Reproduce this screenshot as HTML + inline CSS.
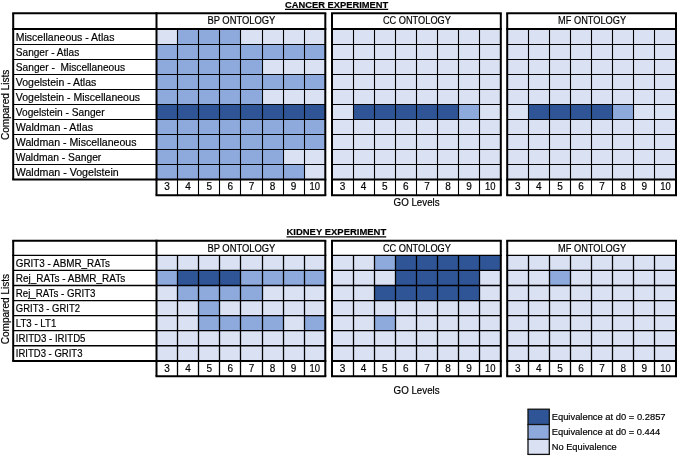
<!DOCTYPE html>
<html><head><meta charset="utf-8"><title>GO equivalence</title>
<style>
html,body{margin:0;padding:0;background:#fff;}
body{width:685px;height:457px;overflow:hidden;}
svg{display:block;will-change:transform;transform:translateZ(0);}
text{font-family:"Liberation Sans",sans-serif;fill:#000;white-space:pre;stroke:#000;stroke-width:0.18px;}
</style></head><body>
<svg width="685" height="457" viewBox="0 0 685 457">
<rect x="0" y="0" width="685" height="457" fill="#ffffff"/>
<rect x="156.50" y="29.00" width="21.10" height="15.50" fill="#D9E1F2"/>
<rect x="177.60" y="29.00" width="21.10" height="15.50" fill="#8EA9DB"/>
<rect x="198.70" y="29.00" width="21.10" height="15.50" fill="#8EA9DB"/>
<rect x="219.80" y="29.00" width="21.10" height="15.50" fill="#8EA9DB"/>
<rect x="240.90" y="29.00" width="21.10" height="15.50" fill="#D9E1F2"/>
<rect x="262.00" y="29.00" width="21.10" height="15.50" fill="#D9E1F2"/>
<rect x="283.10" y="29.00" width="21.10" height="15.50" fill="#D9E1F2"/>
<rect x="304.20" y="29.00" width="21.10" height="15.50" fill="#D9E1F2"/>
<rect x="156.50" y="44.50" width="21.10" height="15.00" fill="#8EA9DB"/>
<rect x="177.60" y="44.50" width="21.10" height="15.00" fill="#8EA9DB"/>
<rect x="198.70" y="44.50" width="21.10" height="15.00" fill="#8EA9DB"/>
<rect x="219.80" y="44.50" width="21.10" height="15.00" fill="#8EA9DB"/>
<rect x="240.90" y="44.50" width="21.10" height="15.00" fill="#8EA9DB"/>
<rect x="262.00" y="44.50" width="21.10" height="15.00" fill="#8EA9DB"/>
<rect x="283.10" y="44.50" width="21.10" height="15.00" fill="#8EA9DB"/>
<rect x="304.20" y="44.50" width="21.10" height="15.00" fill="#8EA9DB"/>
<rect x="156.50" y="59.50" width="21.10" height="15.00" fill="#8EA9DB"/>
<rect x="177.60" y="59.50" width="21.10" height="15.00" fill="#8EA9DB"/>
<rect x="198.70" y="59.50" width="21.10" height="15.00" fill="#8EA9DB"/>
<rect x="219.80" y="59.50" width="21.10" height="15.00" fill="#8EA9DB"/>
<rect x="240.90" y="59.50" width="21.10" height="15.00" fill="#8EA9DB"/>
<rect x="262.00" y="59.50" width="21.10" height="15.00" fill="#D9E1F2"/>
<rect x="283.10" y="59.50" width="21.10" height="15.00" fill="#D9E1F2"/>
<rect x="304.20" y="59.50" width="21.10" height="15.00" fill="#D9E1F2"/>
<rect x="156.50" y="74.50" width="21.10" height="15.00" fill="#8EA9DB"/>
<rect x="177.60" y="74.50" width="21.10" height="15.00" fill="#8EA9DB"/>
<rect x="198.70" y="74.50" width="21.10" height="15.00" fill="#8EA9DB"/>
<rect x="219.80" y="74.50" width="21.10" height="15.00" fill="#8EA9DB"/>
<rect x="240.90" y="74.50" width="21.10" height="15.00" fill="#8EA9DB"/>
<rect x="262.00" y="74.50" width="21.10" height="15.00" fill="#8EA9DB"/>
<rect x="283.10" y="74.50" width="21.10" height="15.00" fill="#8EA9DB"/>
<rect x="304.20" y="74.50" width="21.10" height="15.00" fill="#8EA9DB"/>
<rect x="156.50" y="89.50" width="21.10" height="15.00" fill="#8EA9DB"/>
<rect x="177.60" y="89.50" width="21.10" height="15.00" fill="#8EA9DB"/>
<rect x="198.70" y="89.50" width="21.10" height="15.00" fill="#8EA9DB"/>
<rect x="219.80" y="89.50" width="21.10" height="15.00" fill="#8EA9DB"/>
<rect x="240.90" y="89.50" width="21.10" height="15.00" fill="#8EA9DB"/>
<rect x="262.00" y="89.50" width="21.10" height="15.00" fill="#D9E1F2"/>
<rect x="283.10" y="89.50" width="21.10" height="15.00" fill="#D9E1F2"/>
<rect x="304.20" y="89.50" width="21.10" height="15.00" fill="#D9E1F2"/>
<rect x="156.50" y="104.50" width="21.10" height="15.00" fill="#2F5597"/>
<rect x="177.60" y="104.50" width="21.10" height="15.00" fill="#2F5597"/>
<rect x="198.70" y="104.50" width="21.10" height="15.00" fill="#2F5597"/>
<rect x="219.80" y="104.50" width="21.10" height="15.00" fill="#2F5597"/>
<rect x="240.90" y="104.50" width="21.10" height="15.00" fill="#2F5597"/>
<rect x="262.00" y="104.50" width="21.10" height="15.00" fill="#2F5597"/>
<rect x="283.10" y="104.50" width="21.10" height="15.00" fill="#2F5597"/>
<rect x="304.20" y="104.50" width="21.10" height="15.00" fill="#2F5597"/>
<rect x="156.50" y="119.50" width="21.10" height="15.00" fill="#8EA9DB"/>
<rect x="177.60" y="119.50" width="21.10" height="15.00" fill="#8EA9DB"/>
<rect x="198.70" y="119.50" width="21.10" height="15.00" fill="#8EA9DB"/>
<rect x="219.80" y="119.50" width="21.10" height="15.00" fill="#8EA9DB"/>
<rect x="240.90" y="119.50" width="21.10" height="15.00" fill="#8EA9DB"/>
<rect x="262.00" y="119.50" width="21.10" height="15.00" fill="#8EA9DB"/>
<rect x="283.10" y="119.50" width="21.10" height="15.00" fill="#8EA9DB"/>
<rect x="304.20" y="119.50" width="21.10" height="15.00" fill="#8EA9DB"/>
<rect x="156.50" y="134.50" width="21.10" height="15.00" fill="#8EA9DB"/>
<rect x="177.60" y="134.50" width="21.10" height="15.00" fill="#8EA9DB"/>
<rect x="198.70" y="134.50" width="21.10" height="15.00" fill="#8EA9DB"/>
<rect x="219.80" y="134.50" width="21.10" height="15.00" fill="#8EA9DB"/>
<rect x="240.90" y="134.50" width="21.10" height="15.00" fill="#8EA9DB"/>
<rect x="262.00" y="134.50" width="21.10" height="15.00" fill="#8EA9DB"/>
<rect x="283.10" y="134.50" width="21.10" height="15.00" fill="#8EA9DB"/>
<rect x="304.20" y="134.50" width="21.10" height="15.00" fill="#8EA9DB"/>
<rect x="156.50" y="149.50" width="21.10" height="15.00" fill="#8EA9DB"/>
<rect x="177.60" y="149.50" width="21.10" height="15.00" fill="#8EA9DB"/>
<rect x="198.70" y="149.50" width="21.10" height="15.00" fill="#8EA9DB"/>
<rect x="219.80" y="149.50" width="21.10" height="15.00" fill="#8EA9DB"/>
<rect x="240.90" y="149.50" width="21.10" height="15.00" fill="#8EA9DB"/>
<rect x="262.00" y="149.50" width="21.10" height="15.00" fill="#8EA9DB"/>
<rect x="283.10" y="149.50" width="21.10" height="15.00" fill="#D9E1F2"/>
<rect x="304.20" y="149.50" width="21.10" height="15.00" fill="#D9E1F2"/>
<rect x="156.50" y="164.50" width="21.10" height="15.00" fill="#8EA9DB"/>
<rect x="177.60" y="164.50" width="21.10" height="15.00" fill="#8EA9DB"/>
<rect x="198.70" y="164.50" width="21.10" height="15.00" fill="#8EA9DB"/>
<rect x="219.80" y="164.50" width="21.10" height="15.00" fill="#8EA9DB"/>
<rect x="240.90" y="164.50" width="21.10" height="15.00" fill="#8EA9DB"/>
<rect x="262.00" y="164.50" width="21.10" height="15.00" fill="#8EA9DB"/>
<rect x="283.10" y="164.50" width="21.10" height="15.00" fill="#8EA9DB"/>
<rect x="304.20" y="164.50" width="21.10" height="15.00" fill="#D9E1F2"/>
<rect x="332.00" y="29.00" width="21.10" height="15.50" fill="#D9E1F2"/>
<rect x="353.10" y="29.00" width="21.10" height="15.50" fill="#D9E1F2"/>
<rect x="374.20" y="29.00" width="21.10" height="15.50" fill="#D9E1F2"/>
<rect x="395.30" y="29.00" width="21.10" height="15.50" fill="#D9E1F2"/>
<rect x="416.40" y="29.00" width="21.10" height="15.50" fill="#D9E1F2"/>
<rect x="437.50" y="29.00" width="21.10" height="15.50" fill="#D9E1F2"/>
<rect x="458.60" y="29.00" width="21.10" height="15.50" fill="#D9E1F2"/>
<rect x="479.70" y="29.00" width="21.10" height="15.50" fill="#D9E1F2"/>
<rect x="332.00" y="44.50" width="21.10" height="15.00" fill="#D9E1F2"/>
<rect x="353.10" y="44.50" width="21.10" height="15.00" fill="#D9E1F2"/>
<rect x="374.20" y="44.50" width="21.10" height="15.00" fill="#D9E1F2"/>
<rect x="395.30" y="44.50" width="21.10" height="15.00" fill="#D9E1F2"/>
<rect x="416.40" y="44.50" width="21.10" height="15.00" fill="#D9E1F2"/>
<rect x="437.50" y="44.50" width="21.10" height="15.00" fill="#D9E1F2"/>
<rect x="458.60" y="44.50" width="21.10" height="15.00" fill="#D9E1F2"/>
<rect x="479.70" y="44.50" width="21.10" height="15.00" fill="#D9E1F2"/>
<rect x="332.00" y="59.50" width="21.10" height="15.00" fill="#D9E1F2"/>
<rect x="353.10" y="59.50" width="21.10" height="15.00" fill="#D9E1F2"/>
<rect x="374.20" y="59.50" width="21.10" height="15.00" fill="#D9E1F2"/>
<rect x="395.30" y="59.50" width="21.10" height="15.00" fill="#D9E1F2"/>
<rect x="416.40" y="59.50" width="21.10" height="15.00" fill="#D9E1F2"/>
<rect x="437.50" y="59.50" width="21.10" height="15.00" fill="#D9E1F2"/>
<rect x="458.60" y="59.50" width="21.10" height="15.00" fill="#D9E1F2"/>
<rect x="479.70" y="59.50" width="21.10" height="15.00" fill="#D9E1F2"/>
<rect x="332.00" y="74.50" width="21.10" height="15.00" fill="#D9E1F2"/>
<rect x="353.10" y="74.50" width="21.10" height="15.00" fill="#D9E1F2"/>
<rect x="374.20" y="74.50" width="21.10" height="15.00" fill="#D9E1F2"/>
<rect x="395.30" y="74.50" width="21.10" height="15.00" fill="#D9E1F2"/>
<rect x="416.40" y="74.50" width="21.10" height="15.00" fill="#D9E1F2"/>
<rect x="437.50" y="74.50" width="21.10" height="15.00" fill="#D9E1F2"/>
<rect x="458.60" y="74.50" width="21.10" height="15.00" fill="#D9E1F2"/>
<rect x="479.70" y="74.50" width="21.10" height="15.00" fill="#D9E1F2"/>
<rect x="332.00" y="89.50" width="21.10" height="15.00" fill="#D9E1F2"/>
<rect x="353.10" y="89.50" width="21.10" height="15.00" fill="#D9E1F2"/>
<rect x="374.20" y="89.50" width="21.10" height="15.00" fill="#D9E1F2"/>
<rect x="395.30" y="89.50" width="21.10" height="15.00" fill="#D9E1F2"/>
<rect x="416.40" y="89.50" width="21.10" height="15.00" fill="#D9E1F2"/>
<rect x="437.50" y="89.50" width="21.10" height="15.00" fill="#D9E1F2"/>
<rect x="458.60" y="89.50" width="21.10" height="15.00" fill="#D9E1F2"/>
<rect x="479.70" y="89.50" width="21.10" height="15.00" fill="#D9E1F2"/>
<rect x="332.00" y="104.50" width="21.10" height="15.00" fill="#D9E1F2"/>
<rect x="353.10" y="104.50" width="21.10" height="15.00" fill="#2F5597"/>
<rect x="374.20" y="104.50" width="21.10" height="15.00" fill="#2F5597"/>
<rect x="395.30" y="104.50" width="21.10" height="15.00" fill="#2F5597"/>
<rect x="416.40" y="104.50" width="21.10" height="15.00" fill="#2F5597"/>
<rect x="437.50" y="104.50" width="21.10" height="15.00" fill="#2F5597"/>
<rect x="458.60" y="104.50" width="21.10" height="15.00" fill="#8EA9DB"/>
<rect x="479.70" y="104.50" width="21.10" height="15.00" fill="#D9E1F2"/>
<rect x="332.00" y="119.50" width="21.10" height="15.00" fill="#D9E1F2"/>
<rect x="353.10" y="119.50" width="21.10" height="15.00" fill="#D9E1F2"/>
<rect x="374.20" y="119.50" width="21.10" height="15.00" fill="#D9E1F2"/>
<rect x="395.30" y="119.50" width="21.10" height="15.00" fill="#D9E1F2"/>
<rect x="416.40" y="119.50" width="21.10" height="15.00" fill="#D9E1F2"/>
<rect x="437.50" y="119.50" width="21.10" height="15.00" fill="#D9E1F2"/>
<rect x="458.60" y="119.50" width="21.10" height="15.00" fill="#D9E1F2"/>
<rect x="479.70" y="119.50" width="21.10" height="15.00" fill="#D9E1F2"/>
<rect x="332.00" y="134.50" width="21.10" height="15.00" fill="#D9E1F2"/>
<rect x="353.10" y="134.50" width="21.10" height="15.00" fill="#D9E1F2"/>
<rect x="374.20" y="134.50" width="21.10" height="15.00" fill="#D9E1F2"/>
<rect x="395.30" y="134.50" width="21.10" height="15.00" fill="#D9E1F2"/>
<rect x="416.40" y="134.50" width="21.10" height="15.00" fill="#D9E1F2"/>
<rect x="437.50" y="134.50" width="21.10" height="15.00" fill="#D9E1F2"/>
<rect x="458.60" y="134.50" width="21.10" height="15.00" fill="#D9E1F2"/>
<rect x="479.70" y="134.50" width="21.10" height="15.00" fill="#D9E1F2"/>
<rect x="332.00" y="149.50" width="21.10" height="15.00" fill="#D9E1F2"/>
<rect x="353.10" y="149.50" width="21.10" height="15.00" fill="#D9E1F2"/>
<rect x="374.20" y="149.50" width="21.10" height="15.00" fill="#D9E1F2"/>
<rect x="395.30" y="149.50" width="21.10" height="15.00" fill="#D9E1F2"/>
<rect x="416.40" y="149.50" width="21.10" height="15.00" fill="#D9E1F2"/>
<rect x="437.50" y="149.50" width="21.10" height="15.00" fill="#D9E1F2"/>
<rect x="458.60" y="149.50" width="21.10" height="15.00" fill="#D9E1F2"/>
<rect x="479.70" y="149.50" width="21.10" height="15.00" fill="#D9E1F2"/>
<rect x="332.00" y="164.50" width="21.10" height="15.00" fill="#D9E1F2"/>
<rect x="353.10" y="164.50" width="21.10" height="15.00" fill="#D9E1F2"/>
<rect x="374.20" y="164.50" width="21.10" height="15.00" fill="#D9E1F2"/>
<rect x="395.30" y="164.50" width="21.10" height="15.00" fill="#D9E1F2"/>
<rect x="416.40" y="164.50" width="21.10" height="15.00" fill="#D9E1F2"/>
<rect x="437.50" y="164.50" width="21.10" height="15.00" fill="#D9E1F2"/>
<rect x="458.60" y="164.50" width="21.10" height="15.00" fill="#D9E1F2"/>
<rect x="479.70" y="164.50" width="21.10" height="15.00" fill="#D9E1F2"/>
<rect x="507.20" y="29.00" width="21.10" height="15.50" fill="#D9E1F2"/>
<rect x="528.30" y="29.00" width="21.10" height="15.50" fill="#D9E1F2"/>
<rect x="549.40" y="29.00" width="21.10" height="15.50" fill="#D9E1F2"/>
<rect x="570.50" y="29.00" width="21.10" height="15.50" fill="#D9E1F2"/>
<rect x="591.60" y="29.00" width="21.10" height="15.50" fill="#D9E1F2"/>
<rect x="612.70" y="29.00" width="21.10" height="15.50" fill="#D9E1F2"/>
<rect x="633.80" y="29.00" width="21.10" height="15.50" fill="#D9E1F2"/>
<rect x="654.90" y="29.00" width="21.10" height="15.50" fill="#D9E1F2"/>
<rect x="507.20" y="44.50" width="21.10" height="15.00" fill="#D9E1F2"/>
<rect x="528.30" y="44.50" width="21.10" height="15.00" fill="#D9E1F2"/>
<rect x="549.40" y="44.50" width="21.10" height="15.00" fill="#D9E1F2"/>
<rect x="570.50" y="44.50" width="21.10" height="15.00" fill="#D9E1F2"/>
<rect x="591.60" y="44.50" width="21.10" height="15.00" fill="#D9E1F2"/>
<rect x="612.70" y="44.50" width="21.10" height="15.00" fill="#D9E1F2"/>
<rect x="633.80" y="44.50" width="21.10" height="15.00" fill="#D9E1F2"/>
<rect x="654.90" y="44.50" width="21.10" height="15.00" fill="#D9E1F2"/>
<rect x="507.20" y="59.50" width="21.10" height="15.00" fill="#D9E1F2"/>
<rect x="528.30" y="59.50" width="21.10" height="15.00" fill="#D9E1F2"/>
<rect x="549.40" y="59.50" width="21.10" height="15.00" fill="#D9E1F2"/>
<rect x="570.50" y="59.50" width="21.10" height="15.00" fill="#D9E1F2"/>
<rect x="591.60" y="59.50" width="21.10" height="15.00" fill="#D9E1F2"/>
<rect x="612.70" y="59.50" width="21.10" height="15.00" fill="#D9E1F2"/>
<rect x="633.80" y="59.50" width="21.10" height="15.00" fill="#D9E1F2"/>
<rect x="654.90" y="59.50" width="21.10" height="15.00" fill="#D9E1F2"/>
<rect x="507.20" y="74.50" width="21.10" height="15.00" fill="#D9E1F2"/>
<rect x="528.30" y="74.50" width="21.10" height="15.00" fill="#D9E1F2"/>
<rect x="549.40" y="74.50" width="21.10" height="15.00" fill="#D9E1F2"/>
<rect x="570.50" y="74.50" width="21.10" height="15.00" fill="#D9E1F2"/>
<rect x="591.60" y="74.50" width="21.10" height="15.00" fill="#D9E1F2"/>
<rect x="612.70" y="74.50" width="21.10" height="15.00" fill="#D9E1F2"/>
<rect x="633.80" y="74.50" width="21.10" height="15.00" fill="#D9E1F2"/>
<rect x="654.90" y="74.50" width="21.10" height="15.00" fill="#D9E1F2"/>
<rect x="507.20" y="89.50" width="21.10" height="15.00" fill="#D9E1F2"/>
<rect x="528.30" y="89.50" width="21.10" height="15.00" fill="#D9E1F2"/>
<rect x="549.40" y="89.50" width="21.10" height="15.00" fill="#D9E1F2"/>
<rect x="570.50" y="89.50" width="21.10" height="15.00" fill="#D9E1F2"/>
<rect x="591.60" y="89.50" width="21.10" height="15.00" fill="#D9E1F2"/>
<rect x="612.70" y="89.50" width="21.10" height="15.00" fill="#D9E1F2"/>
<rect x="633.80" y="89.50" width="21.10" height="15.00" fill="#D9E1F2"/>
<rect x="654.90" y="89.50" width="21.10" height="15.00" fill="#D9E1F2"/>
<rect x="507.20" y="104.50" width="21.10" height="15.00" fill="#D9E1F2"/>
<rect x="528.30" y="104.50" width="21.10" height="15.00" fill="#2F5597"/>
<rect x="549.40" y="104.50" width="21.10" height="15.00" fill="#2F5597"/>
<rect x="570.50" y="104.50" width="21.10" height="15.00" fill="#2F5597"/>
<rect x="591.60" y="104.50" width="21.10" height="15.00" fill="#2F5597"/>
<rect x="612.70" y="104.50" width="21.10" height="15.00" fill="#8EA9DB"/>
<rect x="633.80" y="104.50" width="21.10" height="15.00" fill="#D9E1F2"/>
<rect x="654.90" y="104.50" width="21.10" height="15.00" fill="#D9E1F2"/>
<rect x="507.20" y="119.50" width="21.10" height="15.00" fill="#D9E1F2"/>
<rect x="528.30" y="119.50" width="21.10" height="15.00" fill="#D9E1F2"/>
<rect x="549.40" y="119.50" width="21.10" height="15.00" fill="#D9E1F2"/>
<rect x="570.50" y="119.50" width="21.10" height="15.00" fill="#D9E1F2"/>
<rect x="591.60" y="119.50" width="21.10" height="15.00" fill="#D9E1F2"/>
<rect x="612.70" y="119.50" width="21.10" height="15.00" fill="#D9E1F2"/>
<rect x="633.80" y="119.50" width="21.10" height="15.00" fill="#D9E1F2"/>
<rect x="654.90" y="119.50" width="21.10" height="15.00" fill="#D9E1F2"/>
<rect x="507.20" y="134.50" width="21.10" height="15.00" fill="#D9E1F2"/>
<rect x="528.30" y="134.50" width="21.10" height="15.00" fill="#D9E1F2"/>
<rect x="549.40" y="134.50" width="21.10" height="15.00" fill="#D9E1F2"/>
<rect x="570.50" y="134.50" width="21.10" height="15.00" fill="#D9E1F2"/>
<rect x="591.60" y="134.50" width="21.10" height="15.00" fill="#D9E1F2"/>
<rect x="612.70" y="134.50" width="21.10" height="15.00" fill="#D9E1F2"/>
<rect x="633.80" y="134.50" width="21.10" height="15.00" fill="#D9E1F2"/>
<rect x="654.90" y="134.50" width="21.10" height="15.00" fill="#D9E1F2"/>
<rect x="507.20" y="149.50" width="21.10" height="15.00" fill="#D9E1F2"/>
<rect x="528.30" y="149.50" width="21.10" height="15.00" fill="#D9E1F2"/>
<rect x="549.40" y="149.50" width="21.10" height="15.00" fill="#D9E1F2"/>
<rect x="570.50" y="149.50" width="21.10" height="15.00" fill="#D9E1F2"/>
<rect x="591.60" y="149.50" width="21.10" height="15.00" fill="#D9E1F2"/>
<rect x="612.70" y="149.50" width="21.10" height="15.00" fill="#D9E1F2"/>
<rect x="633.80" y="149.50" width="21.10" height="15.00" fill="#D9E1F2"/>
<rect x="654.90" y="149.50" width="21.10" height="15.00" fill="#D9E1F2"/>
<rect x="507.20" y="164.50" width="21.10" height="15.00" fill="#D9E1F2"/>
<rect x="528.30" y="164.50" width="21.10" height="15.00" fill="#D9E1F2"/>
<rect x="549.40" y="164.50" width="21.10" height="15.00" fill="#D9E1F2"/>
<rect x="570.50" y="164.50" width="21.10" height="15.00" fill="#D9E1F2"/>
<rect x="591.60" y="164.50" width="21.10" height="15.00" fill="#D9E1F2"/>
<rect x="612.70" y="164.50" width="21.10" height="15.00" fill="#D9E1F2"/>
<rect x="633.80" y="164.50" width="21.10" height="15.00" fill="#D9E1F2"/>
<rect x="654.90" y="164.50" width="21.10" height="15.00" fill="#D9E1F2"/>
<line x1="13.20" y1="44.50" x2="156.50" y2="44.50" stroke="#000" stroke-width="1"/>
<line x1="156.50" y1="44.50" x2="325.30" y2="44.50" stroke="#000" stroke-width="1"/>
<line x1="332.00" y1="44.50" x2="500.80" y2="44.50" stroke="#000" stroke-width="1"/>
<line x1="507.20" y1="44.50" x2="676.00" y2="44.50" stroke="#000" stroke-width="1"/>
<line x1="13.20" y1="59.50" x2="156.50" y2="59.50" stroke="#000" stroke-width="1"/>
<line x1="156.50" y1="59.50" x2="325.30" y2="59.50" stroke="#000" stroke-width="1"/>
<line x1="332.00" y1="59.50" x2="500.80" y2="59.50" stroke="#000" stroke-width="1"/>
<line x1="507.20" y1="59.50" x2="676.00" y2="59.50" stroke="#000" stroke-width="1"/>
<line x1="13.20" y1="74.50" x2="156.50" y2="74.50" stroke="#000" stroke-width="1"/>
<line x1="156.50" y1="74.50" x2="325.30" y2="74.50" stroke="#000" stroke-width="1"/>
<line x1="332.00" y1="74.50" x2="500.80" y2="74.50" stroke="#000" stroke-width="1"/>
<line x1="507.20" y1="74.50" x2="676.00" y2="74.50" stroke="#000" stroke-width="1"/>
<line x1="13.20" y1="89.50" x2="156.50" y2="89.50" stroke="#000" stroke-width="1"/>
<line x1="156.50" y1="89.50" x2="325.30" y2="89.50" stroke="#000" stroke-width="1"/>
<line x1="332.00" y1="89.50" x2="500.80" y2="89.50" stroke="#000" stroke-width="1"/>
<line x1="507.20" y1="89.50" x2="676.00" y2="89.50" stroke="#000" stroke-width="1"/>
<line x1="13.20" y1="104.50" x2="156.50" y2="104.50" stroke="#000" stroke-width="1"/>
<line x1="156.50" y1="104.50" x2="325.30" y2="104.50" stroke="#000" stroke-width="1"/>
<line x1="332.00" y1="104.50" x2="500.80" y2="104.50" stroke="#000" stroke-width="1"/>
<line x1="507.20" y1="104.50" x2="676.00" y2="104.50" stroke="#000" stroke-width="1"/>
<line x1="13.20" y1="119.50" x2="156.50" y2="119.50" stroke="#000" stroke-width="1"/>
<line x1="156.50" y1="119.50" x2="325.30" y2="119.50" stroke="#000" stroke-width="1"/>
<line x1="332.00" y1="119.50" x2="500.80" y2="119.50" stroke="#000" stroke-width="1"/>
<line x1="507.20" y1="119.50" x2="676.00" y2="119.50" stroke="#000" stroke-width="1"/>
<line x1="13.20" y1="134.50" x2="156.50" y2="134.50" stroke="#000" stroke-width="1"/>
<line x1="156.50" y1="134.50" x2="325.30" y2="134.50" stroke="#000" stroke-width="1"/>
<line x1="332.00" y1="134.50" x2="500.80" y2="134.50" stroke="#000" stroke-width="1"/>
<line x1="507.20" y1="134.50" x2="676.00" y2="134.50" stroke="#000" stroke-width="1"/>
<line x1="13.20" y1="149.50" x2="156.50" y2="149.50" stroke="#000" stroke-width="1"/>
<line x1="156.50" y1="149.50" x2="325.30" y2="149.50" stroke="#000" stroke-width="1"/>
<line x1="332.00" y1="149.50" x2="500.80" y2="149.50" stroke="#000" stroke-width="1"/>
<line x1="507.20" y1="149.50" x2="676.00" y2="149.50" stroke="#000" stroke-width="1"/>
<line x1="13.20" y1="164.50" x2="156.50" y2="164.50" stroke="#000" stroke-width="1"/>
<line x1="156.50" y1="164.50" x2="325.30" y2="164.50" stroke="#000" stroke-width="1"/>
<line x1="332.00" y1="164.50" x2="500.80" y2="164.50" stroke="#000" stroke-width="1"/>
<line x1="507.20" y1="164.50" x2="676.00" y2="164.50" stroke="#000" stroke-width="1"/>
<line x1="177.50" y1="29.00" x2="177.50" y2="195.20" stroke="#000" stroke-width="1.1"/>
<line x1="198.50" y1="29.00" x2="198.50" y2="195.20" stroke="#000" stroke-width="1.1"/>
<line x1="219.50" y1="29.00" x2="219.50" y2="195.20" stroke="#000" stroke-width="1.1"/>
<line x1="240.50" y1="29.00" x2="240.50" y2="195.20" stroke="#000" stroke-width="1.1"/>
<line x1="262.50" y1="29.00" x2="262.50" y2="195.20" stroke="#000" stroke-width="1.1"/>
<line x1="283.50" y1="29.00" x2="283.50" y2="195.20" stroke="#000" stroke-width="1.1"/>
<line x1="304.50" y1="29.00" x2="304.50" y2="195.20" stroke="#000" stroke-width="1.1"/>
<line x1="353.50" y1="29.00" x2="353.50" y2="195.20" stroke="#000" stroke-width="1.1"/>
<line x1="374.50" y1="29.00" x2="374.50" y2="195.20" stroke="#000" stroke-width="1.1"/>
<line x1="395.50" y1="29.00" x2="395.50" y2="195.20" stroke="#000" stroke-width="1.1"/>
<line x1="416.50" y1="29.00" x2="416.50" y2="195.20" stroke="#000" stroke-width="1.1"/>
<line x1="437.50" y1="29.00" x2="437.50" y2="195.20" stroke="#000" stroke-width="1.1"/>
<line x1="458.50" y1="29.00" x2="458.50" y2="195.20" stroke="#000" stroke-width="1.1"/>
<line x1="479.50" y1="29.00" x2="479.50" y2="195.20" stroke="#000" stroke-width="1.1"/>
<line x1="528.50" y1="29.00" x2="528.50" y2="195.20" stroke="#000" stroke-width="1.1"/>
<line x1="549.50" y1="29.00" x2="549.50" y2="195.20" stroke="#000" stroke-width="1.1"/>
<line x1="570.50" y1="29.00" x2="570.50" y2="195.20" stroke="#000" stroke-width="1.1"/>
<line x1="591.50" y1="29.00" x2="591.50" y2="195.20" stroke="#000" stroke-width="1.1"/>
<line x1="612.50" y1="29.00" x2="612.50" y2="195.20" stroke="#000" stroke-width="1.1"/>
<line x1="633.50" y1="29.00" x2="633.50" y2="195.20" stroke="#000" stroke-width="1.1"/>
<line x1="654.50" y1="29.00" x2="654.50" y2="195.20" stroke="#000" stroke-width="1.1"/>
<line x1="12.20" y1="29.00" x2="156.50" y2="29.00" stroke="#000" stroke-width="2"/>
<line x1="155.50" y1="29.00" x2="326.30" y2="29.00" stroke="#000" stroke-width="2"/>
<line x1="331.00" y1="29.00" x2="501.80" y2="29.00" stroke="#000" stroke-width="2"/>
<line x1="506.20" y1="29.00" x2="677.00" y2="29.00" stroke="#000" stroke-width="2"/>
<line x1="13.20" y1="13.20" x2="13.20" y2="179.50" stroke="#000" stroke-width="2"/>
<line x1="12.20" y1="13.20" x2="157.50" y2="13.20" stroke="#000" stroke-width="2"/>
<line x1="12.20" y1="179.50" x2="157.50" y2="179.50" stroke="#000" stroke-width="2"/>
<line x1="156.50" y1="13.20" x2="156.50" y2="195.20" stroke="#000" stroke-width="2"/>
<line x1="325.30" y1="13.20" x2="325.30" y2="195.20" stroke="#000" stroke-width="2"/>
<line x1="155.50" y1="13.20" x2="326.30" y2="13.20" stroke="#000" stroke-width="2"/>
<line x1="155.50" y1="179.50" x2="326.30" y2="179.50" stroke="#000" stroke-width="2"/>
<line x1="155.50" y1="195.20" x2="326.30" y2="195.20" stroke="#000" stroke-width="2"/>
<line x1="332.00" y1="13.20" x2="332.00" y2="195.20" stroke="#000" stroke-width="2"/>
<line x1="500.80" y1="13.20" x2="500.80" y2="195.20" stroke="#000" stroke-width="2"/>
<line x1="331.00" y1="13.20" x2="501.80" y2="13.20" stroke="#000" stroke-width="2"/>
<line x1="331.00" y1="179.50" x2="501.80" y2="179.50" stroke="#000" stroke-width="2"/>
<line x1="331.00" y1="195.20" x2="501.80" y2="195.20" stroke="#000" stroke-width="2"/>
<line x1="507.20" y1="13.20" x2="507.20" y2="195.20" stroke="#000" stroke-width="2"/>
<line x1="676.00" y1="13.20" x2="676.00" y2="195.20" stroke="#000" stroke-width="2"/>
<line x1="506.20" y1="13.20" x2="677.00" y2="13.20" stroke="#000" stroke-width="2"/>
<line x1="506.20" y1="179.50" x2="677.00" y2="179.50" stroke="#000" stroke-width="2"/>
<line x1="506.20" y1="195.20" x2="677.00" y2="195.20" stroke="#000" stroke-width="2"/>
<text x="15.80" y="40.60" font-size="10.4" text-anchor="start" font-weight="normal" textLength="98.6" lengthAdjust="spacingAndGlyphs">Miscellaneous - Atlas</text>
<text x="15.80" y="55.60" font-size="10.4" text-anchor="start" font-weight="normal" textLength="63.4" lengthAdjust="spacingAndGlyphs">Sanger - Atlas</text>
<text x="15.80" y="70.60" font-size="10.4" text-anchor="start" font-weight="normal" textLength="109.2" lengthAdjust="spacingAndGlyphs">Sanger -  Miscellaneous</text>
<text x="15.80" y="85.60" font-size="10.4" text-anchor="start" font-weight="normal" textLength="80.5" lengthAdjust="spacingAndGlyphs">Vogelstein - Atlas</text>
<text x="15.80" y="100.60" font-size="10.4" text-anchor="start" font-weight="normal" textLength="124.2" lengthAdjust="spacingAndGlyphs">Vogelstein - Miscellaneous</text>
<text x="15.80" y="115.60" font-size="10.4" text-anchor="start" font-weight="normal" textLength="88.8" lengthAdjust="spacingAndGlyphs">Vogelstein - Sanger</text>
<text x="15.80" y="130.60" font-size="10.4" text-anchor="start" font-weight="normal" textLength="77.2" lengthAdjust="spacingAndGlyphs">Waldman - Atlas</text>
<text x="15.80" y="145.60" font-size="10.4" text-anchor="start" font-weight="normal" textLength="120.7" lengthAdjust="spacingAndGlyphs">Waldman - Miscellaneous</text>
<text x="15.80" y="160.60" font-size="10.4" text-anchor="start" font-weight="normal" textLength="85.5" lengthAdjust="spacingAndGlyphs">Waldman - Sanger</text>
<text x="15.80" y="175.60" font-size="10.4" text-anchor="start" font-weight="normal" textLength="102.9" lengthAdjust="spacingAndGlyphs">Waldman - Vogelstein</text>
<text x="241.40" y="23.60" font-size="10" text-anchor="middle" font-weight="normal" textLength="68.0" lengthAdjust="spacingAndGlyphs">BP ONTOLOGY</text>
<text x="416.90" y="23.60" font-size="10" text-anchor="middle" font-weight="normal" textLength="68.0" lengthAdjust="spacingAndGlyphs">CC ONTOLOGY</text>
<text x="592.10" y="23.60" font-size="10" text-anchor="middle" font-weight="normal" textLength="68.0" lengthAdjust="spacingAndGlyphs">MF ONTOLOGY</text>
<text x="167.05" y="189.90" font-size="10" text-anchor="middle" font-weight="normal">3</text>
<text x="188.15" y="189.90" font-size="10" text-anchor="middle" font-weight="normal">4</text>
<text x="209.25" y="189.90" font-size="10" text-anchor="middle" font-weight="normal">5</text>
<text x="230.35" y="189.90" font-size="10" text-anchor="middle" font-weight="normal">6</text>
<text x="251.45" y="189.90" font-size="10" text-anchor="middle" font-weight="normal">7</text>
<text x="272.55" y="189.90" font-size="10" text-anchor="middle" font-weight="normal">8</text>
<text x="293.65" y="189.90" font-size="10" text-anchor="middle" font-weight="normal">9</text>
<text x="314.75" y="189.90" font-size="10" text-anchor="middle" font-weight="normal" textLength="10.5" lengthAdjust="spacingAndGlyphs">10</text>
<text x="342.55" y="189.90" font-size="10" text-anchor="middle" font-weight="normal">3</text>
<text x="363.65" y="189.90" font-size="10" text-anchor="middle" font-weight="normal">4</text>
<text x="384.75" y="189.90" font-size="10" text-anchor="middle" font-weight="normal">5</text>
<text x="405.85" y="189.90" font-size="10" text-anchor="middle" font-weight="normal">6</text>
<text x="426.95" y="189.90" font-size="10" text-anchor="middle" font-weight="normal">7</text>
<text x="448.05" y="189.90" font-size="10" text-anchor="middle" font-weight="normal">8</text>
<text x="469.15" y="189.90" font-size="10" text-anchor="middle" font-weight="normal">9</text>
<text x="490.25" y="189.90" font-size="10" text-anchor="middle" font-weight="normal" textLength="10.5" lengthAdjust="spacingAndGlyphs">10</text>
<text x="517.75" y="189.90" font-size="10" text-anchor="middle" font-weight="normal">3</text>
<text x="538.85" y="189.90" font-size="10" text-anchor="middle" font-weight="normal">4</text>
<text x="559.95" y="189.90" font-size="10" text-anchor="middle" font-weight="normal">5</text>
<text x="581.05" y="189.90" font-size="10" text-anchor="middle" font-weight="normal">6</text>
<text x="602.15" y="189.90" font-size="10" text-anchor="middle" font-weight="normal">7</text>
<text x="623.25" y="189.90" font-size="10" text-anchor="middle" font-weight="normal">8</text>
<text x="644.35" y="189.90" font-size="10" text-anchor="middle" font-weight="normal">9</text>
<text x="665.45" y="189.90" font-size="10" text-anchor="middle" font-weight="normal" textLength="10.5" lengthAdjust="spacingAndGlyphs">10</text>
<text x="336.60" y="8.00" font-size="9.6" text-anchor="middle" font-weight="bold" textLength="103.2" lengthAdjust="spacingAndGlyphs">CANCER EXPERIMENT</text>
<line x1="285.00" y1="9.40" x2="388.20" y2="9.40" stroke="#000" stroke-width="1.1"/>
<text transform="translate(8.7,104.85) rotate(-90)" font-size="10" text-anchor="middle" textLength="70.3" lengthAdjust="spacingAndGlyphs">Compared Lists</text>
<text x="416.60" y="206.30" font-size="10" text-anchor="middle" font-weight="normal" textLength="46.0" lengthAdjust="spacingAndGlyphs">GO Levels</text>
<rect x="156.50" y="255.40" width="21.10" height="15.06" fill="#D9E1F2"/>
<rect x="177.60" y="255.40" width="21.10" height="15.06" fill="#D9E1F2"/>
<rect x="198.70" y="255.40" width="21.10" height="15.06" fill="#D9E1F2"/>
<rect x="219.80" y="255.40" width="21.10" height="15.06" fill="#D9E1F2"/>
<rect x="240.90" y="255.40" width="21.10" height="15.06" fill="#D9E1F2"/>
<rect x="262.00" y="255.40" width="21.10" height="15.06" fill="#D9E1F2"/>
<rect x="283.10" y="255.40" width="21.10" height="15.06" fill="#D9E1F2"/>
<rect x="304.20" y="255.40" width="21.10" height="15.06" fill="#D9E1F2"/>
<rect x="156.50" y="270.46" width="21.10" height="15.06" fill="#8EA9DB"/>
<rect x="177.60" y="270.46" width="21.10" height="15.06" fill="#2F5597"/>
<rect x="198.70" y="270.46" width="21.10" height="15.06" fill="#2F5597"/>
<rect x="219.80" y="270.46" width="21.10" height="15.06" fill="#2F5597"/>
<rect x="240.90" y="270.46" width="21.10" height="15.06" fill="#8EA9DB"/>
<rect x="262.00" y="270.46" width="21.10" height="15.06" fill="#8EA9DB"/>
<rect x="283.10" y="270.46" width="21.10" height="15.06" fill="#8EA9DB"/>
<rect x="304.20" y="270.46" width="21.10" height="15.06" fill="#8EA9DB"/>
<rect x="156.50" y="285.52" width="21.10" height="15.06" fill="#D9E1F2"/>
<rect x="177.60" y="285.52" width="21.10" height="15.06" fill="#8EA9DB"/>
<rect x="198.70" y="285.52" width="21.10" height="15.06" fill="#8EA9DB"/>
<rect x="219.80" y="285.52" width="21.10" height="15.06" fill="#8EA9DB"/>
<rect x="240.90" y="285.52" width="21.10" height="15.06" fill="#8EA9DB"/>
<rect x="262.00" y="285.52" width="21.10" height="15.06" fill="#D9E1F2"/>
<rect x="283.10" y="285.52" width="21.10" height="15.06" fill="#D9E1F2"/>
<rect x="304.20" y="285.52" width="21.10" height="15.06" fill="#D9E1F2"/>
<rect x="156.50" y="300.58" width="21.10" height="15.06" fill="#D9E1F2"/>
<rect x="177.60" y="300.58" width="21.10" height="15.06" fill="#D9E1F2"/>
<rect x="198.70" y="300.58" width="21.10" height="15.06" fill="#8EA9DB"/>
<rect x="219.80" y="300.58" width="21.10" height="15.06" fill="#D9E1F2"/>
<rect x="240.90" y="300.58" width="21.10" height="15.06" fill="#D9E1F2"/>
<rect x="262.00" y="300.58" width="21.10" height="15.06" fill="#D9E1F2"/>
<rect x="283.10" y="300.58" width="21.10" height="15.06" fill="#D9E1F2"/>
<rect x="304.20" y="300.58" width="21.10" height="15.06" fill="#D9E1F2"/>
<rect x="156.50" y="315.64" width="21.10" height="15.06" fill="#D9E1F2"/>
<rect x="177.60" y="315.64" width="21.10" height="15.06" fill="#D9E1F2"/>
<rect x="198.70" y="315.64" width="21.10" height="15.06" fill="#8EA9DB"/>
<rect x="219.80" y="315.64" width="21.10" height="15.06" fill="#8EA9DB"/>
<rect x="240.90" y="315.64" width="21.10" height="15.06" fill="#8EA9DB"/>
<rect x="262.00" y="315.64" width="21.10" height="15.06" fill="#8EA9DB"/>
<rect x="283.10" y="315.64" width="21.10" height="15.06" fill="#D9E1F2"/>
<rect x="304.20" y="315.64" width="21.10" height="15.06" fill="#8EA9DB"/>
<rect x="156.50" y="330.70" width="21.10" height="15.06" fill="#D9E1F2"/>
<rect x="177.60" y="330.70" width="21.10" height="15.06" fill="#D9E1F2"/>
<rect x="198.70" y="330.70" width="21.10" height="15.06" fill="#D9E1F2"/>
<rect x="219.80" y="330.70" width="21.10" height="15.06" fill="#D9E1F2"/>
<rect x="240.90" y="330.70" width="21.10" height="15.06" fill="#D9E1F2"/>
<rect x="262.00" y="330.70" width="21.10" height="15.06" fill="#D9E1F2"/>
<rect x="283.10" y="330.70" width="21.10" height="15.06" fill="#D9E1F2"/>
<rect x="304.20" y="330.70" width="21.10" height="15.06" fill="#D9E1F2"/>
<rect x="156.50" y="345.76" width="21.10" height="15.24" fill="#D9E1F2"/>
<rect x="177.60" y="345.76" width="21.10" height="15.24" fill="#D9E1F2"/>
<rect x="198.70" y="345.76" width="21.10" height="15.24" fill="#D9E1F2"/>
<rect x="219.80" y="345.76" width="21.10" height="15.24" fill="#D9E1F2"/>
<rect x="240.90" y="345.76" width="21.10" height="15.24" fill="#D9E1F2"/>
<rect x="262.00" y="345.76" width="21.10" height="15.24" fill="#D9E1F2"/>
<rect x="283.10" y="345.76" width="21.10" height="15.24" fill="#D9E1F2"/>
<rect x="304.20" y="345.76" width="21.10" height="15.24" fill="#D9E1F2"/>
<rect x="332.00" y="255.40" width="21.10" height="15.06" fill="#D9E1F2"/>
<rect x="353.10" y="255.40" width="21.10" height="15.06" fill="#D9E1F2"/>
<rect x="374.20" y="255.40" width="21.10" height="15.06" fill="#8EA9DB"/>
<rect x="395.30" y="255.40" width="21.10" height="15.06" fill="#2F5597"/>
<rect x="416.40" y="255.40" width="21.10" height="15.06" fill="#2F5597"/>
<rect x="437.50" y="255.40" width="21.10" height="15.06" fill="#2F5597"/>
<rect x="458.60" y="255.40" width="21.10" height="15.06" fill="#2F5597"/>
<rect x="479.70" y="255.40" width="21.10" height="15.06" fill="#2F5597"/>
<rect x="332.00" y="270.46" width="21.10" height="15.06" fill="#D9E1F2"/>
<rect x="353.10" y="270.46" width="21.10" height="15.06" fill="#D9E1F2"/>
<rect x="374.20" y="270.46" width="21.10" height="15.06" fill="#D9E1F2"/>
<rect x="395.30" y="270.46" width="21.10" height="15.06" fill="#2F5597"/>
<rect x="416.40" y="270.46" width="21.10" height="15.06" fill="#2F5597"/>
<rect x="437.50" y="270.46" width="21.10" height="15.06" fill="#2F5597"/>
<rect x="458.60" y="270.46" width="21.10" height="15.06" fill="#2F5597"/>
<rect x="479.70" y="270.46" width="21.10" height="15.06" fill="#D9E1F2"/>
<rect x="332.00" y="285.52" width="21.10" height="15.06" fill="#D9E1F2"/>
<rect x="353.10" y="285.52" width="21.10" height="15.06" fill="#D9E1F2"/>
<rect x="374.20" y="285.52" width="21.10" height="15.06" fill="#2F5597"/>
<rect x="395.30" y="285.52" width="21.10" height="15.06" fill="#2F5597"/>
<rect x="416.40" y="285.52" width="21.10" height="15.06" fill="#2F5597"/>
<rect x="437.50" y="285.52" width="21.10" height="15.06" fill="#2F5597"/>
<rect x="458.60" y="285.52" width="21.10" height="15.06" fill="#2F5597"/>
<rect x="479.70" y="285.52" width="21.10" height="15.06" fill="#D9E1F2"/>
<rect x="332.00" y="300.58" width="21.10" height="15.06" fill="#D9E1F2"/>
<rect x="353.10" y="300.58" width="21.10" height="15.06" fill="#D9E1F2"/>
<rect x="374.20" y="300.58" width="21.10" height="15.06" fill="#D9E1F2"/>
<rect x="395.30" y="300.58" width="21.10" height="15.06" fill="#D9E1F2"/>
<rect x="416.40" y="300.58" width="21.10" height="15.06" fill="#D9E1F2"/>
<rect x="437.50" y="300.58" width="21.10" height="15.06" fill="#D9E1F2"/>
<rect x="458.60" y="300.58" width="21.10" height="15.06" fill="#D9E1F2"/>
<rect x="479.70" y="300.58" width="21.10" height="15.06" fill="#D9E1F2"/>
<rect x="332.00" y="315.64" width="21.10" height="15.06" fill="#D9E1F2"/>
<rect x="353.10" y="315.64" width="21.10" height="15.06" fill="#D9E1F2"/>
<rect x="374.20" y="315.64" width="21.10" height="15.06" fill="#8EA9DB"/>
<rect x="395.30" y="315.64" width="21.10" height="15.06" fill="#D9E1F2"/>
<rect x="416.40" y="315.64" width="21.10" height="15.06" fill="#D9E1F2"/>
<rect x="437.50" y="315.64" width="21.10" height="15.06" fill="#D9E1F2"/>
<rect x="458.60" y="315.64" width="21.10" height="15.06" fill="#D9E1F2"/>
<rect x="479.70" y="315.64" width="21.10" height="15.06" fill="#D9E1F2"/>
<rect x="332.00" y="330.70" width="21.10" height="15.06" fill="#D9E1F2"/>
<rect x="353.10" y="330.70" width="21.10" height="15.06" fill="#D9E1F2"/>
<rect x="374.20" y="330.70" width="21.10" height="15.06" fill="#D9E1F2"/>
<rect x="395.30" y="330.70" width="21.10" height="15.06" fill="#D9E1F2"/>
<rect x="416.40" y="330.70" width="21.10" height="15.06" fill="#D9E1F2"/>
<rect x="437.50" y="330.70" width="21.10" height="15.06" fill="#D9E1F2"/>
<rect x="458.60" y="330.70" width="21.10" height="15.06" fill="#D9E1F2"/>
<rect x="479.70" y="330.70" width="21.10" height="15.06" fill="#D9E1F2"/>
<rect x="332.00" y="345.76" width="21.10" height="15.24" fill="#D9E1F2"/>
<rect x="353.10" y="345.76" width="21.10" height="15.24" fill="#D9E1F2"/>
<rect x="374.20" y="345.76" width="21.10" height="15.24" fill="#D9E1F2"/>
<rect x="395.30" y="345.76" width="21.10" height="15.24" fill="#D9E1F2"/>
<rect x="416.40" y="345.76" width="21.10" height="15.24" fill="#D9E1F2"/>
<rect x="437.50" y="345.76" width="21.10" height="15.24" fill="#D9E1F2"/>
<rect x="458.60" y="345.76" width="21.10" height="15.24" fill="#D9E1F2"/>
<rect x="479.70" y="345.76" width="21.10" height="15.24" fill="#D9E1F2"/>
<rect x="507.20" y="255.40" width="21.10" height="15.06" fill="#D9E1F2"/>
<rect x="528.30" y="255.40" width="21.10" height="15.06" fill="#D9E1F2"/>
<rect x="549.40" y="255.40" width="21.10" height="15.06" fill="#D9E1F2"/>
<rect x="570.50" y="255.40" width="21.10" height="15.06" fill="#D9E1F2"/>
<rect x="591.60" y="255.40" width="21.10" height="15.06" fill="#D9E1F2"/>
<rect x="612.70" y="255.40" width="21.10" height="15.06" fill="#D9E1F2"/>
<rect x="633.80" y="255.40" width="21.10" height="15.06" fill="#D9E1F2"/>
<rect x="654.90" y="255.40" width="21.10" height="15.06" fill="#D9E1F2"/>
<rect x="507.20" y="270.46" width="21.10" height="15.06" fill="#D9E1F2"/>
<rect x="528.30" y="270.46" width="21.10" height="15.06" fill="#D9E1F2"/>
<rect x="549.40" y="270.46" width="21.10" height="15.06" fill="#8EA9DB"/>
<rect x="570.50" y="270.46" width="21.10" height="15.06" fill="#D9E1F2"/>
<rect x="591.60" y="270.46" width="21.10" height="15.06" fill="#D9E1F2"/>
<rect x="612.70" y="270.46" width="21.10" height="15.06" fill="#D9E1F2"/>
<rect x="633.80" y="270.46" width="21.10" height="15.06" fill="#D9E1F2"/>
<rect x="654.90" y="270.46" width="21.10" height="15.06" fill="#D9E1F2"/>
<rect x="507.20" y="285.52" width="21.10" height="15.06" fill="#D9E1F2"/>
<rect x="528.30" y="285.52" width="21.10" height="15.06" fill="#D9E1F2"/>
<rect x="549.40" y="285.52" width="21.10" height="15.06" fill="#D9E1F2"/>
<rect x="570.50" y="285.52" width="21.10" height="15.06" fill="#D9E1F2"/>
<rect x="591.60" y="285.52" width="21.10" height="15.06" fill="#D9E1F2"/>
<rect x="612.70" y="285.52" width="21.10" height="15.06" fill="#D9E1F2"/>
<rect x="633.80" y="285.52" width="21.10" height="15.06" fill="#D9E1F2"/>
<rect x="654.90" y="285.52" width="21.10" height="15.06" fill="#D9E1F2"/>
<rect x="507.20" y="300.58" width="21.10" height="15.06" fill="#D9E1F2"/>
<rect x="528.30" y="300.58" width="21.10" height="15.06" fill="#D9E1F2"/>
<rect x="549.40" y="300.58" width="21.10" height="15.06" fill="#D9E1F2"/>
<rect x="570.50" y="300.58" width="21.10" height="15.06" fill="#D9E1F2"/>
<rect x="591.60" y="300.58" width="21.10" height="15.06" fill="#D9E1F2"/>
<rect x="612.70" y="300.58" width="21.10" height="15.06" fill="#D9E1F2"/>
<rect x="633.80" y="300.58" width="21.10" height="15.06" fill="#D9E1F2"/>
<rect x="654.90" y="300.58" width="21.10" height="15.06" fill="#D9E1F2"/>
<rect x="507.20" y="315.64" width="21.10" height="15.06" fill="#D9E1F2"/>
<rect x="528.30" y="315.64" width="21.10" height="15.06" fill="#D9E1F2"/>
<rect x="549.40" y="315.64" width="21.10" height="15.06" fill="#D9E1F2"/>
<rect x="570.50" y="315.64" width="21.10" height="15.06" fill="#D9E1F2"/>
<rect x="591.60" y="315.64" width="21.10" height="15.06" fill="#D9E1F2"/>
<rect x="612.70" y="315.64" width="21.10" height="15.06" fill="#D9E1F2"/>
<rect x="633.80" y="315.64" width="21.10" height="15.06" fill="#D9E1F2"/>
<rect x="654.90" y="315.64" width="21.10" height="15.06" fill="#D9E1F2"/>
<rect x="507.20" y="330.70" width="21.10" height="15.06" fill="#D9E1F2"/>
<rect x="528.30" y="330.70" width="21.10" height="15.06" fill="#D9E1F2"/>
<rect x="549.40" y="330.70" width="21.10" height="15.06" fill="#D9E1F2"/>
<rect x="570.50" y="330.70" width="21.10" height="15.06" fill="#D9E1F2"/>
<rect x="591.60" y="330.70" width="21.10" height="15.06" fill="#D9E1F2"/>
<rect x="612.70" y="330.70" width="21.10" height="15.06" fill="#D9E1F2"/>
<rect x="633.80" y="330.70" width="21.10" height="15.06" fill="#D9E1F2"/>
<rect x="654.90" y="330.70" width="21.10" height="15.06" fill="#D9E1F2"/>
<rect x="507.20" y="345.76" width="21.10" height="15.24" fill="#D9E1F2"/>
<rect x="528.30" y="345.76" width="21.10" height="15.24" fill="#D9E1F2"/>
<rect x="549.40" y="345.76" width="21.10" height="15.24" fill="#D9E1F2"/>
<rect x="570.50" y="345.76" width="21.10" height="15.24" fill="#D9E1F2"/>
<rect x="591.60" y="345.76" width="21.10" height="15.24" fill="#D9E1F2"/>
<rect x="612.70" y="345.76" width="21.10" height="15.24" fill="#D9E1F2"/>
<rect x="633.80" y="345.76" width="21.10" height="15.24" fill="#D9E1F2"/>
<rect x="654.90" y="345.76" width="21.10" height="15.24" fill="#D9E1F2"/>
<line x1="13.20" y1="270.46" x2="156.50" y2="270.46" stroke="#000" stroke-width="1.3"/>
<line x1="156.50" y1="270.46" x2="325.30" y2="270.46" stroke="#000" stroke-width="1.3"/>
<line x1="332.00" y1="270.46" x2="500.80" y2="270.46" stroke="#000" stroke-width="1.3"/>
<line x1="507.20" y1="270.46" x2="676.00" y2="270.46" stroke="#000" stroke-width="1.3"/>
<line x1="13.20" y1="285.52" x2="156.50" y2="285.52" stroke="#000" stroke-width="1.3"/>
<line x1="156.50" y1="285.52" x2="325.30" y2="285.52" stroke="#000" stroke-width="1.3"/>
<line x1="332.00" y1="285.52" x2="500.80" y2="285.52" stroke="#000" stroke-width="1.3"/>
<line x1="507.20" y1="285.52" x2="676.00" y2="285.52" stroke="#000" stroke-width="1.3"/>
<line x1="13.20" y1="300.58" x2="156.50" y2="300.58" stroke="#000" stroke-width="1.3"/>
<line x1="156.50" y1="300.58" x2="325.30" y2="300.58" stroke="#000" stroke-width="1.3"/>
<line x1="332.00" y1="300.58" x2="500.80" y2="300.58" stroke="#000" stroke-width="1.3"/>
<line x1="507.20" y1="300.58" x2="676.00" y2="300.58" stroke="#000" stroke-width="1.3"/>
<line x1="13.20" y1="315.64" x2="156.50" y2="315.64" stroke="#000" stroke-width="1.3"/>
<line x1="156.50" y1="315.64" x2="325.30" y2="315.64" stroke="#000" stroke-width="1.3"/>
<line x1="332.00" y1="315.64" x2="500.80" y2="315.64" stroke="#000" stroke-width="1.3"/>
<line x1="507.20" y1="315.64" x2="676.00" y2="315.64" stroke="#000" stroke-width="1.3"/>
<line x1="13.20" y1="330.70" x2="156.50" y2="330.70" stroke="#000" stroke-width="1.3"/>
<line x1="156.50" y1="330.70" x2="325.30" y2="330.70" stroke="#000" stroke-width="1.3"/>
<line x1="332.00" y1="330.70" x2="500.80" y2="330.70" stroke="#000" stroke-width="1.3"/>
<line x1="507.20" y1="330.70" x2="676.00" y2="330.70" stroke="#000" stroke-width="1.3"/>
<line x1="13.20" y1="345.76" x2="156.50" y2="345.76" stroke="#000" stroke-width="1.3"/>
<line x1="156.50" y1="345.76" x2="325.30" y2="345.76" stroke="#000" stroke-width="1.3"/>
<line x1="332.00" y1="345.76" x2="500.80" y2="345.76" stroke="#000" stroke-width="1.3"/>
<line x1="507.20" y1="345.76" x2="676.00" y2="345.76" stroke="#000" stroke-width="1.3"/>
<line x1="177.50" y1="255.40" x2="177.50" y2="376.30" stroke="#000" stroke-width="1.3"/>
<line x1="198.50" y1="255.40" x2="198.50" y2="376.30" stroke="#000" stroke-width="1.3"/>
<line x1="219.50" y1="255.40" x2="219.50" y2="376.30" stroke="#000" stroke-width="1.3"/>
<line x1="240.50" y1="255.40" x2="240.50" y2="376.30" stroke="#000" stroke-width="1.3"/>
<line x1="262.50" y1="255.40" x2="262.50" y2="376.30" stroke="#000" stroke-width="1.3"/>
<line x1="283.50" y1="255.40" x2="283.50" y2="376.30" stroke="#000" stroke-width="1.3"/>
<line x1="304.50" y1="255.40" x2="304.50" y2="376.30" stroke="#000" stroke-width="1.3"/>
<line x1="353.50" y1="255.40" x2="353.50" y2="376.30" stroke="#000" stroke-width="1.3"/>
<line x1="374.50" y1="255.40" x2="374.50" y2="376.30" stroke="#000" stroke-width="1.3"/>
<line x1="395.50" y1="255.40" x2="395.50" y2="376.30" stroke="#000" stroke-width="1.3"/>
<line x1="416.50" y1="255.40" x2="416.50" y2="376.30" stroke="#000" stroke-width="1.3"/>
<line x1="437.50" y1="255.40" x2="437.50" y2="376.30" stroke="#000" stroke-width="1.3"/>
<line x1="458.50" y1="255.40" x2="458.50" y2="376.30" stroke="#000" stroke-width="1.3"/>
<line x1="479.50" y1="255.40" x2="479.50" y2="376.30" stroke="#000" stroke-width="1.3"/>
<line x1="528.50" y1="255.40" x2="528.50" y2="376.30" stroke="#000" stroke-width="1.3"/>
<line x1="549.50" y1="255.40" x2="549.50" y2="376.30" stroke="#000" stroke-width="1.3"/>
<line x1="570.50" y1="255.40" x2="570.50" y2="376.30" stroke="#000" stroke-width="1.3"/>
<line x1="591.50" y1="255.40" x2="591.50" y2="376.30" stroke="#000" stroke-width="1.3"/>
<line x1="612.50" y1="255.40" x2="612.50" y2="376.30" stroke="#000" stroke-width="1.3"/>
<line x1="633.50" y1="255.40" x2="633.50" y2="376.30" stroke="#000" stroke-width="1.3"/>
<line x1="654.50" y1="255.40" x2="654.50" y2="376.30" stroke="#000" stroke-width="1.3"/>
<line x1="12.20" y1="255.40" x2="156.50" y2="255.40" stroke="#000" stroke-width="1.3"/>
<line x1="155.50" y1="255.40" x2="326.30" y2="255.40" stroke="#000" stroke-width="1.3"/>
<line x1="331.00" y1="255.40" x2="501.80" y2="255.40" stroke="#000" stroke-width="1.3"/>
<line x1="506.20" y1="255.40" x2="677.00" y2="255.40" stroke="#000" stroke-width="1.3"/>
<line x1="13.20" y1="240.80" x2="13.20" y2="361.00" stroke="#000" stroke-width="2"/>
<line x1="12.20" y1="240.80" x2="157.50" y2="240.80" stroke="#000" stroke-width="2"/>
<line x1="12.20" y1="361.00" x2="157.50" y2="361.00" stroke="#000" stroke-width="2"/>
<line x1="156.50" y1="240.80" x2="156.50" y2="376.30" stroke="#000" stroke-width="2"/>
<line x1="325.30" y1="240.80" x2="325.30" y2="376.30" stroke="#000" stroke-width="2"/>
<line x1="155.50" y1="240.80" x2="326.30" y2="240.80" stroke="#000" stroke-width="2"/>
<line x1="155.50" y1="361.00" x2="326.30" y2="361.00" stroke="#000" stroke-width="2"/>
<line x1="155.50" y1="376.30" x2="326.30" y2="376.30" stroke="#000" stroke-width="2"/>
<line x1="332.00" y1="240.80" x2="332.00" y2="376.30" stroke="#000" stroke-width="2"/>
<line x1="500.80" y1="240.80" x2="500.80" y2="376.30" stroke="#000" stroke-width="2"/>
<line x1="331.00" y1="240.80" x2="501.80" y2="240.80" stroke="#000" stroke-width="2"/>
<line x1="331.00" y1="361.00" x2="501.80" y2="361.00" stroke="#000" stroke-width="2"/>
<line x1="331.00" y1="376.30" x2="501.80" y2="376.30" stroke="#000" stroke-width="2"/>
<line x1="507.20" y1="240.80" x2="507.20" y2="376.30" stroke="#000" stroke-width="2"/>
<line x1="676.00" y1="240.80" x2="676.00" y2="376.30" stroke="#000" stroke-width="2"/>
<line x1="506.20" y1="240.80" x2="677.00" y2="240.80" stroke="#000" stroke-width="2"/>
<line x1="506.20" y1="361.00" x2="677.00" y2="361.00" stroke="#000" stroke-width="2"/>
<line x1="506.20" y1="376.30" x2="677.00" y2="376.30" stroke="#000" stroke-width="2"/>
<text x="15.80" y="266.76" font-size="10.4" text-anchor="start" font-weight="normal" textLength="94.1" lengthAdjust="spacingAndGlyphs">GRIT3 - ABMR_RATs</text>
<text x="15.80" y="281.82" font-size="10.4" text-anchor="start" font-weight="normal" textLength="109.4" lengthAdjust="spacingAndGlyphs">Rej_RATs - ABMR_RATs</text>
<text x="15.80" y="296.88" font-size="10.4" text-anchor="start" font-weight="normal" textLength="79.7" lengthAdjust="spacingAndGlyphs">Rej_RATs - GRIT3</text>
<text x="15.80" y="311.94" font-size="10.4" text-anchor="start" font-weight="normal" textLength="64.2" lengthAdjust="spacingAndGlyphs">GRIT3 - GRIT2</text>
<text x="15.80" y="327.00" font-size="10.4" text-anchor="start" font-weight="normal" textLength="40.5" lengthAdjust="spacingAndGlyphs">LT3 - LT1</text>
<text x="15.80" y="342.06" font-size="10.4" text-anchor="start" font-weight="normal" textLength="69.7" lengthAdjust="spacingAndGlyphs">IRITD3 - IRITD5</text>
<text x="15.80" y="357.30" font-size="10.4" text-anchor="start" font-weight="normal" textLength="66.7" lengthAdjust="spacingAndGlyphs">IRITD3 - GRIT3</text>
<text x="241.40" y="251.50" font-size="10" text-anchor="middle" font-weight="normal" textLength="68.0" lengthAdjust="spacingAndGlyphs">BP ONTOLOGY</text>
<text x="416.90" y="251.50" font-size="10" text-anchor="middle" font-weight="normal" textLength="68.0" lengthAdjust="spacingAndGlyphs">CC ONTOLOGY</text>
<text x="592.10" y="251.50" font-size="10" text-anchor="middle" font-weight="normal" textLength="68.0" lengthAdjust="spacingAndGlyphs">MF ONTOLOGY</text>
<text x="167.05" y="371.70" font-size="10" text-anchor="middle" font-weight="normal">3</text>
<text x="188.15" y="371.70" font-size="10" text-anchor="middle" font-weight="normal">4</text>
<text x="209.25" y="371.70" font-size="10" text-anchor="middle" font-weight="normal">5</text>
<text x="230.35" y="371.70" font-size="10" text-anchor="middle" font-weight="normal">6</text>
<text x="251.45" y="371.70" font-size="10" text-anchor="middle" font-weight="normal">7</text>
<text x="272.55" y="371.70" font-size="10" text-anchor="middle" font-weight="normal">8</text>
<text x="293.65" y="371.70" font-size="10" text-anchor="middle" font-weight="normal">9</text>
<text x="314.75" y="371.70" font-size="10" text-anchor="middle" font-weight="normal" textLength="10.5" lengthAdjust="spacingAndGlyphs">10</text>
<text x="342.55" y="371.70" font-size="10" text-anchor="middle" font-weight="normal">3</text>
<text x="363.65" y="371.70" font-size="10" text-anchor="middle" font-weight="normal">4</text>
<text x="384.75" y="371.70" font-size="10" text-anchor="middle" font-weight="normal">5</text>
<text x="405.85" y="371.70" font-size="10" text-anchor="middle" font-weight="normal">6</text>
<text x="426.95" y="371.70" font-size="10" text-anchor="middle" font-weight="normal">7</text>
<text x="448.05" y="371.70" font-size="10" text-anchor="middle" font-weight="normal">8</text>
<text x="469.15" y="371.70" font-size="10" text-anchor="middle" font-weight="normal">9</text>
<text x="490.25" y="371.70" font-size="10" text-anchor="middle" font-weight="normal" textLength="10.5" lengthAdjust="spacingAndGlyphs">10</text>
<text x="517.75" y="371.70" font-size="10" text-anchor="middle" font-weight="normal">3</text>
<text x="538.85" y="371.70" font-size="10" text-anchor="middle" font-weight="normal">4</text>
<text x="559.95" y="371.70" font-size="10" text-anchor="middle" font-weight="normal">5</text>
<text x="581.05" y="371.70" font-size="10" text-anchor="middle" font-weight="normal">6</text>
<text x="602.15" y="371.70" font-size="10" text-anchor="middle" font-weight="normal">7</text>
<text x="623.25" y="371.70" font-size="10" text-anchor="middle" font-weight="normal">8</text>
<text x="644.35" y="371.70" font-size="10" text-anchor="middle" font-weight="normal">9</text>
<text x="665.45" y="371.70" font-size="10" text-anchor="middle" font-weight="normal" textLength="10.5" lengthAdjust="spacingAndGlyphs">10</text>
<text x="336.35" y="235.30" font-size="9.6" text-anchor="middle" font-weight="bold" textLength="99.7" lengthAdjust="spacingAndGlyphs">KIDNEY EXPERIMENT</text>
<line x1="286.50" y1="236.90" x2="386.20" y2="236.90" stroke="#000" stroke-width="1.1"/>
<text transform="translate(8.7,309.10) rotate(-90)" font-size="10" text-anchor="middle" textLength="70.3" lengthAdjust="spacingAndGlyphs">Compared Lists</text>
<text x="416.60" y="394.00" font-size="10" text-anchor="middle" font-weight="normal" textLength="46.0" lengthAdjust="spacingAndGlyphs">GO Levels</text>
<rect x="528.00" y="409.20" width="21.30" height="15.30" fill="#2F5597"/>
<rect x="528.00" y="424.50" width="21.30" height="14.80" fill="#8EA9DB"/>
<rect x="528.00" y="439.30" width="21.30" height="15.10" fill="#D9E1F2"/>
<line x1="527.40" y1="409.20" x2="549.90" y2="409.20" stroke="#111" stroke-width="1.3"/>
<line x1="527.40" y1="424.50" x2="549.90" y2="424.50" stroke="#111" stroke-width="1.3"/>
<line x1="527.40" y1="439.30" x2="549.90" y2="439.30" stroke="#111" stroke-width="1.3"/>
<line x1="527.40" y1="454.40" x2="549.90" y2="454.40" stroke="#111" stroke-width="1.3"/>
<line x1="528.00" y1="409.20" x2="528.00" y2="454.40" stroke="#111" stroke-width="1.3"/>
<line x1="549.30" y1="409.20" x2="549.30" y2="454.40" stroke="#111" stroke-width="1.3"/>
<text x="551.70" y="419.80" font-size="9.5" text-anchor="start" font-weight="normal" textLength="113.9" lengthAdjust="spacingAndGlyphs">Equivalence at d0 = 0.2857</text>
<text x="551.70" y="434.80" font-size="9.5" text-anchor="start" font-weight="normal" textLength="108.5" lengthAdjust="spacingAndGlyphs">Equivalence at d0 = 0.444</text>
<text x="551.70" y="449.80" font-size="9.5" text-anchor="start" font-weight="normal" textLength="65.0" lengthAdjust="spacingAndGlyphs">No Equivalence</text>
</svg>
</body></html>
